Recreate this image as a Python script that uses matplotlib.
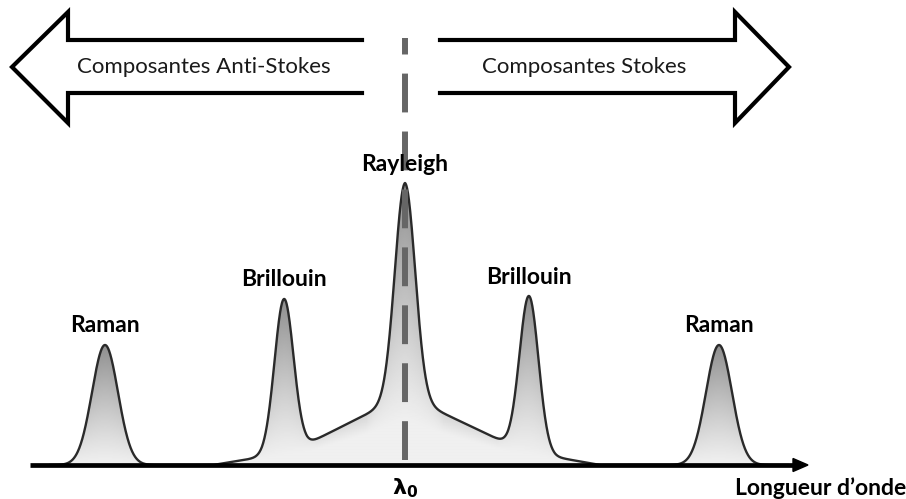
#! /usr/bin/env python

""" plot.py: Rayleigh / Brillouin / Raman scattering spectrum sketch """

import numpy as np
import matplotlib
matplotlib.use("Agg")
import matplotlib.pyplot as plt
from matplotlib.patches import Polygon

plt.rcParams['font.family'] = ['Lato', 'DejaVu Sans']

# Peaks: wavelength shift (a.u., lambda0 = 0), total height, width
peak_names = ['Raman', 'Brillouin', 'Rayleigh', 'Brillouin', 'Raman']
peak_pos = [-300, -121, 0, 124, 314]
peak_height = [120, 166, 282, 169, 120]
peak_sigma = [13.0, 9.5, 10.2, 9.5, 13.0]

# Broad pedestal under the Brillouin / Rayleigh group
ped_x = [-192, -143, -98, 0, 103, 150, 195]
ped_h = [0, 8, 21, 70, 21, 8, 0]

# Layout of the sketch
x_min, x_max = -405, 501
y_min, y_max = -34, 465
axis_start, axis_end = -375, 403

fig = plt.figure(figsize=(9.06, 4.99), dpi=100)
ax = fig.add_axes([0, 0, 1, 1])
ax.set_xlim(x_min, x_max)
ax.set_ylim(y_min, y_max)
ax.axis('off')

# Build the spectrum envelope
x = np.linspace(axis_start + 20, axis_end - 20, 2400)
pedestal = np.interp(x, ped_x, ped_h)
y = pedestal.copy()
for c, h, s in zip(peak_pos, peak_height, peak_sigma):
    base = np.interp(c, ped_x, ped_h)
    y += (h - base) * np.exp(-0.5 * ((x - c) / s) ** 2)

# Gradient fill: light on the pedestal, darker toward each peak top
gx = np.linspace(x_min, x_max, 906)
gy = np.linspace(0, 300, 400)
GX, GY = np.meshgrid(gx, gy)
ped_g = np.interp(gx, ped_x, ped_h)
H = ped_g + 40.0
for c, h, s in zip(peak_pos, peak_height, peak_sigma):
    H = np.maximum(H, h * np.exp(-0.5 * ((gx - c) / (2.5 * s)) ** 2))
frac = np.clip((GY - 0.6 * ped_g[None, :]) / (H - 0.6 * ped_g)[None, :], 0, 1)
light, dark = 0.94, 0.56
img = light + (dark - light) * frac ** 1.15
im = ax.imshow(img, extent=[x_min, x_max, 0, 300], origin='lower',
               cmap='gray', vmin=0, vmax=1, aspect='auto', zorder=1)
poly = Polygon(np.column_stack([np.r_[x[0], x, x[-1]], np.r_[0, y, 0]]),
               closed=True, facecolor='none', edgecolor='none')
ax.add_patch(poly)
im.set_clip_path(poly)

# Outline
ax.plot(x, y, color='#2a2a2a', lw=1.7, zorder=3, solid_joinstyle='round')

# Dashed lambda0 line
ax.plot([0, 0], [5, 427], color='#666666', lw=4.3, linestyle=(0, (6.5, 3.2)),
        solid_capstyle='butt', zorder=4)

# Wavelength axis with arrow head
ax.plot([axis_start, axis_end - 12], [0, 0], color='black', lw=3.4, zorder=5,
        solid_capstyle='butt')
ax.add_patch(Polygon([[axis_end - 15, 6.5], [axis_end, 0], [axis_end - 15, -6.5]],
                     closed=True, color='black', zorder=5))

# Peak labels
for name, c, h in zip(peak_names, peak_pos, peak_height):
    ax.text(c, h + 19, name, ha='center', va='center', fontsize=16.5,
            fontweight='bold', zorder=6)

ax.text(0, -23, r'$\mathbf{\lambda_0}$', ha='center', va='center', fontsize=16,
        zorder=6)
ax.text(501, -23, "Longueur d\u2019onde", ha='right', va='center', fontsize=16.5,
        fontweight='bold', zorder=6)

# Direction arrows (open at the tail)
shaft_top, shaft_bot, head_top, head_bot, mid = 425, 372, 453, 342, 398
left_arrow_x = [-43, -337, -337, -393, -337, -337, -43]
right_arrow_x = [35, 330, 330, 384, 330, 330, 35]
arrow_y = [shaft_top, shaft_top, head_top, mid, head_bot, shaft_bot, shaft_bot]
ax.plot(left_arrow_x, arrow_y, color='black', lw=3.0, solid_joinstyle='miter', zorder=6)
ax.plot(right_arrow_x, arrow_y, color='black', lw=3.0, solid_joinstyle='miter', zorder=6)

ax.text(-201, mid, 'Composantes Anti-Stokes', ha='center', va='center',
        fontsize=16, color='#1a1a1a')
ax.text(179, mid, 'Composantes Stokes', ha='center', va='center',
        fontsize=16, color='#1a1a1a')

fig.savefig('out.png', dpi=100)
